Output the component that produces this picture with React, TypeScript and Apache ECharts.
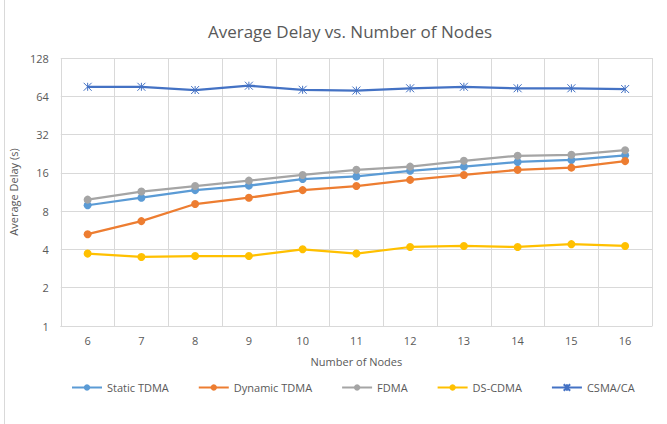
import React, { useEffect, useRef } from "react";
import * as echarts from "echarts";

const categories = ["6", "7", "8", "9", "10", "11", "12", "13", "14", "15", "16"];
const staticTDMA = [8.9, 10.2, 11.7, 12.7, 14.3, 15.0, 16.6, 17.9, 19.5, 20.2, 22.0];
const dynamicTDMA = [5.27, 6.68, 9.1, 10.2, 11.7, 12.6, 14.1, 15.4, 16.9, 17.6, 19.8];
const fdma = [9.85, 11.4, 12.6, 13.9, 15.4, 16.9, 17.9, 19.9, 21.8, 22.2, 24.1];
const dsCDMA = [3.71, 3.49, 3.55, 3.55, 4.01, 3.71, 4.18, 4.26, 4.18, 4.4, 4.26];
const csmaCA = [76, 76, 71.7, 77.5, 72, 71, 74, 76, 74, 74, 73];

const FONT = "'Open Sans', 'Liberation Sans', sans-serif";
const TXT = "#595959";

export default function App() {
  const ref = useRef<HTMLDivElement>(null);
  useEffect(() => {
    if (!ref.current) return;
    const chart = echarts.init(ref.current, null, { renderer: "svg" });
    const mk = (name: string, data: number[], color: string, star = false) => ({
      name,
      type: "line",
      data,
      symbol: star ? "path://M0,-5L0,5M-5,-5L5,5M-5,5L5,-5" : "circle",
      symbolSize: 8,
      showSymbol: true,
      lineStyle: { color, width: 2.25 },
      itemStyle: star
        ? { color: "rgba(0,0,0,0)", borderColor: color, borderWidth: 1 }
        : { color, borderColor: color, borderWidth: 0 },
      emphasis: { disabled: true },
    });
    chart.setOption({
      animation: false,
      textStyle: { fontFamily: FONT },
      title: {
        text: "Average Delay vs. Number of Nodes",
        left: 345,
        textAlign: "center",
        top: 18,
        textStyle: { fontFamily: FONT, fontSize: 17, fontWeight: "normal", color: TXT },
      },
      legend: {
        top: 377,
        left: 66,
        itemGap: 29,
        itemWidth: 30,
        itemHeight: 8,
        textStyle: { fontFamily: FONT, fontSize: 11, color: TXT },
        data: ["Static TDMA", "Dynamic TDMA", "FDMA", "DS-CDMA", "CSMA/CA"],
      },
      grid: { left: 55, right: 15, top: 58, bottom: 98, containLabel: false },
      xAxis: {
        type: "category",
        data: categories,
        boundaryGap: true,
        name: "Number of Nodes",
        nameLocation: "middle",
        nameGap: 30,
        nameTextStyle: { fontFamily: FONT, fontSize: 11, color: TXT },
        axisLine: { lineStyle: { color: "#d9d9d9" } },
        axisTick: { show: false },
        axisLabel: { color: TXT, fontSize: 11, fontFamily: FONT, margin: 9 },
        splitLine: { show: true, lineStyle: { color: "#d9d9d9" } },
      },
      yAxis: {
        type: "log",
        logBase: 2,
        min: 1,
        max: 128,
        interval: 1,
        name: "Average Delay (s)",
        nameLocation: "middle",
        nameGap: 31,
        nameRotate: 90,
        nameTextStyle: { fontFamily: FONT, fontSize: 11, color: TXT },
        axisLine: { show: false },
        axisTick: { show: false },
        axisLabel: { color: TXT, fontSize: 11, fontFamily: FONT, margin: 12 },
        splitLine: { show: true, lineStyle: { color: "#d9d9d9" } },
      },
      graphic: [
        {
          type: "line",
          shape: { x1: 4.5, y1: 0, x2: 4.5, y2: 424 },
          style: { stroke: "#d9d9d9", lineWidth: 1 },
        },
      ],
      series: [
        mk("Static TDMA", staticTDMA, "#5B9BD5"),
        mk("Dynamic TDMA", dynamicTDMA, "#ED7D31"),
        mk("FDMA", fdma, "#A5A5A5"),
        mk("DS-CDMA", dsCDMA, "#FFC000"),
        mk("CSMA/CA", csmaCA, "#4472C4", true),
      ],
    });
    return () => chart.dispose();
  }, []);
  return (
    <div
      ref={ref}
      style={{ position: "absolute", left: 0, top: 0, width: 667, height: 424, background: "#fff" }}
    />
  );
}
